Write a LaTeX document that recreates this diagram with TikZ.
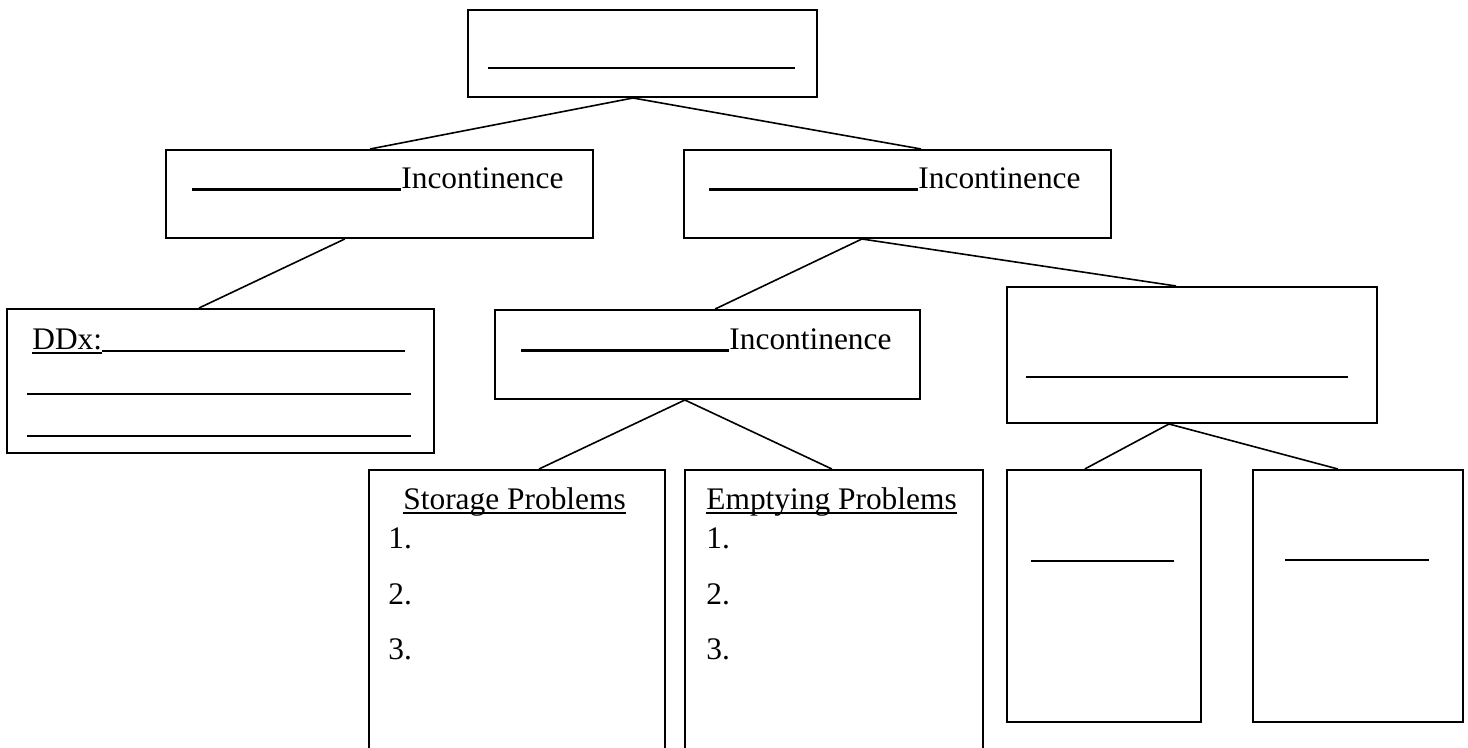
\documentclass[tikz,border=0pt]{standalone}
\usepackage{fontspec}
\setmainfont{Liberation Serif}
\usetikzlibrary{calc}
\newcommand{\blank}[2][0.8pt]{\rule[-1pt]{#2}{#1}}
\newcommand{\undl}[1]{\setbox0\hbox{#1}\rlap{\rule[-1.8pt]{\wd0}{0.7pt}}\box0}
\tikzset{
  panel/.style={draw, line width=1pt, anchor=north west, inner sep=0pt},
  link/.style={line width=0.8pt},
  txt/.style={anchor=base west, inner sep=0pt, font=\fontsize{15.7}{18}\selectfont}
}

\begin{document}
\begin{tikzpicture}[x=0.5pt, y=-0.5pt]
    \useasboundingbox (0,0) rectangle (1468,748);
    \clip (0,0) rectangle (1468,748);

    % --- BOXES ---
    % Top level
    \node[panel, minimum width=174.5pt, minimum height=43.5pt] (root) at (467,9) {};

    % Second level
    \node[panel, minimum width=213.5pt, minimum height=44pt] (incL) at (165,149) {};
    \node[panel, minimum width=213.5pt, minimum height=44pt] (incR) at (683,149) {};

    % Third level
    \node[panel, minimum width=213.5pt, minimum height=72pt] (ddx) at (6,308) {};
    \node[panel, minimum width=212.5pt, minimum height=44.5pt] (incM) at (494,309) {};
    \node[panel, minimum width=185pt, minimum height=68pt] (other) at (1006,286) {};

    % Bottom level
    \node[panel, minimum width=148pt, minimum height=150pt] (storage) at (368,469) {};
    \node[panel, minimum width=149pt, minimum height=150pt] (emptying) at (684,469) {};
    \node[panel, minimum width=97pt, minimum height=126pt] (subA) at (1006,469) {};
    \node[panel, minimum width=105pt, minimum height=126pt] (subB) at (1252,469) {};

    % --- TEXTS ---
    \node[txt] (rootT) at (488,67) {\blank{153.5pt}};
    \node[txt] (incLT) at (192,189) {\blank[1.4pt]{104.5pt}Incontinence};
    \node[txt] (incRT) at (709,189) {\blank[1.4pt]{104.5pt}Incontinence};
    \node[txt] (incMT) at (521,350) {\blank[1.4pt]{104pt}Incontinence};
    \node[txt] (otherT) at (1026,376) {\blank{161pt}};

    % DDx lines
    \node[txt] (ddx1) at (32,350) {\undl{DDx:}\blank{151.5pt}};
    \node[txt] (ddx2) at (27,393) {\blank{192pt}};
    \node[txt] (ddx3) at (27,435) {\blank{192pt}};

    % Storage / Emptying lists
    \node[txt] (storageT) at (403,510) {\undl{Storage Problems}};
    \node[txt] (emptyingT) at (706,510) {\undl{Emptying Problems}};
    \foreach \n/\y in {1/549, 2/604, 3/659} {
        \node[txt] (s\n) at (388,\y) {\n.};
        \node[txt] (e\n) at (706,\y) {\n.};
    }

    \node[txt] (subAT) at (1031,560) {\blank{71.5pt}};
    \node[txt] (subBT) at (1285,559) {\blank{72pt}};

    % --- CONNECTORS ---
    \draw[link] ($(root.south west)!0.473!(root.south east)$) -- ($(incL.north west)!0.478!(incL.north east)$);
    \draw[link] ($(root.south west)!0.473!(root.south east)$) -- ($(incR.north west)!0.555!(incR.north east)$);
    \draw[link] ($(incL.south west)!0.419!(incL.south east)$) -- ($(ddx.north west)!0.45!(ddx.north east)$);
    \draw[link] ($(incR.south west)!0.417!(incR.south east)$) -- ($(incM.north west)!0.518!(incM.north east)$);
    \draw[link] ($(incR.south west)!0.417!(incR.south east)$) -- ($(other.north west)!0.457!(other.north east)$);
    \draw[link] ($(incM.south west)!0.447!(incM.south east)$) -- ($(storage.north west)!0.574!(storage.north east)$);
    \draw[link] ($(incM.south west)!0.447!(incM.south east)$) -- ($(emptying.north west)!0.493!(emptying.north east)$);
    \draw[link] ($(other.south west)!0.438!(other.south east)$) -- ($(subA.north west)!0.402!(subA.north east)$);
    \draw[link] ($(other.south west)!0.438!(other.south east)$) -- ($(subB.north west)!0.405!(subB.north east)$);
\end{tikzpicture}
\end{document}
